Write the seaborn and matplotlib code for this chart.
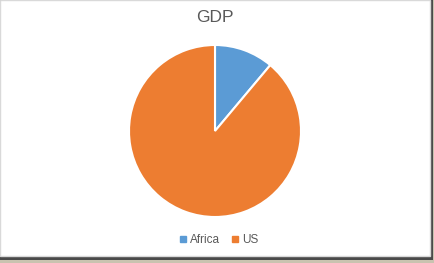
import matplotlib
matplotlib.use("Agg")
import matplotlib.pyplot as plt
import seaborn as sns
from matplotlib.patches import Rectangle
from matplotlib.lines import Line2D

categories = ["Africa", "US"]
values = [2.2, 17.6]
colors = ["#5B9BD5", "#ED7D31"]
title = "GDP"

sns.set_theme(style="white")
plt.rcParams['font.family'] = ['Liberation Sans', 'DejaVu Sans']

W, H = 435, 263
fig = plt.figure(figsize=(W / 100, H / 100), dpi=100)
fig.patch.set_facecolor("#ffffff")

# screenshot frame / shadow
fig.patches.append(Rectangle((0, 0), 1, 1, transform=fig.transFigure,
                             facecolor="#c9c3b0", edgecolor="none", zorder=-3))
fig.patches.append(Rectangle((0, 1 - 260 / H), 433 / W, 260 / H, transform=fig.transFigure,
                             facecolor="#4a4a4a", edgecolor="none", zorder=-2))
fig.patches.append(Rectangle((0, 1 - 256 / H), 430 / W, 256 / H, transform=fig.transFigure,
                             facecolor="#ffffff", edgecolor="#d9d9d9", linewidth=1, zorder=-1))

cx, cy, r = 215, 131, 86
ax = fig.add_axes([(cx - r) / W, (H - cy - r) / H, 2 * r / W, 2 * r / H])
ax.pie(values, colors=colors, startangle=90, counterclock=False,
       wedgeprops=dict(edgecolor="white", linewidth=1.5))
ax.set_xlim(-1, 1)
ax.set_ylim(-1, 1)
ax.set_aspect("equal")
ax.axis("off")

fig.text(215 / W, 1 - 18 / H, title, ha="center", va="center", fontsize=12.5, color="#595959")

handles = [Line2D([0], [0], marker="s", linestyle="none", markersize=4,
                  markerfacecolor=c, markeredgecolor=c) for c in colors]
fig.legend(handles, categories, loc="center", bbox_to_anchor=(219 / W, 1 - 240 / H),
           ncol=2, frameon=False, fontsize=8.5, labelcolor="#595959",
           handlelength=0.6, handletextpad=0.3, columnspacing=1.0)

fig.savefig("out.png", dpi=100)
